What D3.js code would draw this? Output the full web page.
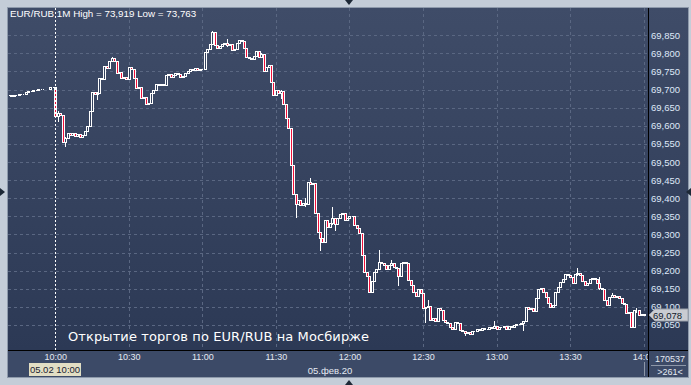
<!DOCTYPE html>
<html>
<head>
<meta charset="utf-8">
<script src="https://cdn.jsdelivr.net/npm/d3@7"></script>
<style>
  html, body { margin: 0; padding: 0; background: #c4cdd8; }
  svg { display: block; }
</style>
</head>
<body>
<svg width="691" height="385"></svg>
<script>
// ---- data (1-minute candles, index 0 = 10:00) ----
var firstIndex = -19;
var firstOpen = 69.686;
var closes = [
  // previous session tail (-19 .. -1), null = no trade
  69.684, 69.683, 69.685, 69.686, 69.688, 69.687, 69.689, 69.692, 69.695, 69.696,
  69.698, 69.699, 69.701, 69.703, 69.703, null, null, 69.706, 69.707,
  // 10:00 ..
  69.628, 69.634, 69.630, 69.556, 69.566, 69.580, 69.575, 69.581, 69.572, 69.577,
  69.570, 69.575, 69.586, 69.600, 69.640, 69.692, 69.687, 69.690, 69.731, 69.728,
  69.766, 69.760, 69.780, 69.786, 69.778, 69.745, 69.748, 69.731, 69.734, 69.730,
  // 10:30
  69.762, 69.756, 69.731, 69.704, 69.708, 69.676, 69.680, 69.659, 69.662, 69.690,
  69.698, 69.715, 69.712, 69.716, 69.713, 69.740, 69.743, 69.736, 69.741, 69.745,
  69.742, 69.736, 69.738, 69.745, 69.750, 69.758, 69.755, 69.760, 69.753, 69.756,
  // 11:00
  69.758, 69.805, 69.812, 69.825, 69.858, 69.823, 69.815, 69.820, 69.826, 69.828,
  69.822, 69.825, 69.809, 69.812, 69.830, 69.837, 69.834, 69.814, 69.791, 69.788,
  69.785, 69.792, 69.806, 69.790, 69.798, 69.750, 69.762, 69.768, 69.722, 69.684,
  // 11:30
  69.700, 69.690, 69.695, 69.660, 69.621, 69.595, 69.492, 69.412, 69.385, 69.395,
  69.380, 69.388, 69.383, 69.446, 69.440, 69.442, 69.358, 69.308, 69.290, 69.280,
  69.340, 69.320, 69.332, 69.345, 69.330, 69.345, 69.355, 69.360, 69.340, 69.345,
  // 12:00
  69.350, 69.352, 69.325, 69.318, 69.305, 69.243, 69.195, 69.185, 69.140, 69.170,
  69.195, 69.205, 69.225, 69.220, 69.215, 69.205, 69.215, 69.222, 69.210, 69.208,
  69.185, 69.220, 69.225, 69.222, 69.174, 69.160, 69.140, 69.130, 69.150, 69.137,
  // 12:30
  69.096, 69.100, 69.102, 69.064, 69.068, 69.062, 69.096, 69.092, 69.064, 69.057,
  69.055, 69.045, 69.040, 69.058, 69.055, 69.037, 69.033, 69.028, 69.030, 69.026,
  69.034, 69.033, 69.038, 69.036, 69.042, 69.038, 69.040, 69.044, 69.042, 69.048,
  // 13:00
  69.040, 69.045, 69.043, 69.046, 69.040, 69.047, 69.045, 69.050, 69.053, 69.052,
  69.056, 69.060, 69.100, 69.095, 69.098, 69.088, 69.123, 69.148, 69.151, 69.140,
  69.128, 69.110, 69.100, 69.105, 69.142, 69.155, 69.169, 69.178, 69.190, 69.188,
  // 13:30
  69.183, 69.165, 69.190, 69.194, 69.188, 69.170, 69.160, 69.165, 69.178, 69.180,
  69.178, 69.165, 69.152, 69.150, 69.119, 69.105, 69.128, 69.132, 69.128, 69.130,
  69.125, 69.110, 69.108, 69.082, 69.085, 69.045, 69.091, 69.090, 69.078, 69.080,
  // 14:00
  69.078
];
// visible wicks: [index, high, low]
var wicks = [
  [0, 69.707, 69.625], [1, 69.640, 69.612], [4, 69.568, 69.543], [17, 69.692, 69.675],
  [23, 69.790, 69.778], [64, 69.862, 69.825], [70, 69.840, 69.820], [84, 69.802, 69.790],
  [92, 69.700, 69.676], [98, 69.412, 69.349], [102, 69.400, 69.378], [104, 69.455, 69.438],
  [108, 69.308, 69.257], [113, 69.377, 69.330], [114, 69.345, 69.312], [132, 69.257, 69.205],
  [137, 69.230, 69.215], [140, 69.208, 69.160], [151, 69.100, 69.059], [152, 69.119, 69.100],
  [167, 69.030, 69.022], [179, 69.061, 69.042], [191, 69.060, 69.036], [213, 69.206, 69.188],
  [222, 69.183, 69.150], [227, 69.138, 69.126], [237, 69.096, 69.085]
];
var timeTicks = [0, 30, 60, 90, 120, 150, 180, 210, 240];
var timeLabels = ["10:00", "10:30", "11:00", "11:30", "12:00", "12:30", "13:00", "13:30", "14:00"];
var priceTicks = [69.05, 69.10, 69.15, 69.20, 69.25, 69.30, 69.35, 69.40, 69.45,
                  69.50, 69.55, 69.60, 69.65, 69.70, 69.75, 69.80, 69.85];
var lastPrice = 69.078;
var header = "EUR/RUB 1M High = 73,919 Low = 73,763";
var caption = "Открытие торгов по EUR/RUB на Мосбирже";
var cursorLabel = "05.02 10:00";
var dateLabel = "05.фев.20";
var volumeText = "170537";
var countText = ">261<";

// ---- build candles ----
var candles = [];
var prev = firstOpen;
closes.forEach(function (c, k) {
  if (c === null) return;
  var i = firstIndex + k;
  var o = prev;
  var h = Math.max(o, c), l = Math.min(o, c);
  wicks.forEach(function (w) {
    if (w[0] === i) { h = Math.max(h, w[1]); l = Math.min(l, w[2]); }
  });
  candles.push({ i: i, o: o, h: h, l: l, c: c });
  prev = c;
});

// ---- layout ----
var plot = { left: 8, top: 8, right: 648, bottom: 350 };
var svg = d3.select("svg");
var ru = d3.formatLocale({ decimal: ",", thousands: " ", grouping: [3], currency: ["", ""] });
var fmt = ru.format(".3f");
var font = "Liberation Sans, Arial, sans-serif";

var x = d3.scaleLinear().domain([-19.3, 241.8]).range([plot.left, plot.right]);
var y = d3.scaleLinear().domain([68.9807, 69.9254]).range([plot.bottom, plot.top]);

var defs = svg.append("defs");
var grad = defs.append("linearGradient").attr("id", "bg").attr("x1", 0).attr("y1", 0).attr("x2", 0).attr("y2", 1);
grad.append("stop").attr("offset", "0%").attr("stop-color", "#3f4c68");
grad.append("stop").attr("offset", "100%").attr("stop-color", "#2c3955");
defs.append("clipPath").attr("id", "plotClip").append("rect")
  .attr("x", plot.left).attr("y", plot.top)
  .attr("width", plot.right - plot.left).attr("height", plot.bottom - plot.top);

// frame
svg.append("rect").attr("width", 691).attr("height", 385).attr("fill", "#c4cdd8");
svg.append("rect").attr("x", 7.5).attr("y", 7.5).attr("width", 681).attr("height", 370)
  .attr("fill", "none").attr("stroke", "#8e9aab");
svg.append("rect").attr("x", plot.left).attr("y", plot.top)
  .attr("width", 688 - plot.left).attr("height", plot.bottom - plot.top)
  .attr("fill", "url(#bg)");
svg.append("rect").attr("x", plot.left).attr("y", plot.bottom)
  .attr("width", 688 - plot.left).attr("height", 377 - plot.bottom)
  .attr("fill", "#3c4a67");

// grid
var grid = svg.append("g").attr("clip-path", "url(#plotClip)");
grid.selectAll(".hg").data(priceTicks).enter().append("line")
  .attr("x1", plot.left).attr("x2", plot.right)
  .attr("y1", function (d) { return Math.round(y(d)) + 0.5; })
  .attr("y2", function (d) { return Math.round(y(d)) + 0.5; })
  .attr("stroke", "#5a6782").attr("stroke-dasharray", "3,3");
grid.selectAll(".vg").data(timeTicks.slice(1)).enter().append("line")
  .attr("y1", plot.top).attr("y2", plot.bottom)
  .attr("x1", function (d) { return Math.round(x(d)) + 0.5; })
  .attr("x2", function (d) { return Math.round(x(d)) + 0.5; })
  .attr("stroke", "#5a6782").attr("stroke-dasharray", "3,3");

// header
svg.append("text").attr("x", 10).attr("y", 17)
  .attr("font-family", font).attr("font-size", "9.8px")
  .attr("fill", "#ffffff").text(header);

// candles
var cg = svg.append("g").attr("clip-path", "url(#plotClip)");
var cx = function (d) { return Math.round(x(d.i)); };
cg.selectAll(".wick").data(candles).enter().append("line")
  .attr("x1", function (d) { return cx(d) + 0.5; })
  .attr("x2", function (d) { return cx(d) + 0.5; })
  .attr("y1", function (d) { return Math.round(y(d.h)); })
  .attr("y2", function (d) { return Math.round(y(d.l)) + 1; })
  .attr("stroke", "#ffffff");
cg.selectAll(".body").data(candles).enter().append("rect")
  .attr("x", function (d) { return cx(d) - 0.5; })
  .attr("width", 2)
  .attr("y", function (d) { return Math.round(y(Math.max(d.o, d.c))) + 0.5; })
  .attr("height", function (d) {
    return Math.max(0, Math.round(y(Math.min(d.o, d.c))) - Math.round(y(Math.max(d.o, d.c))));
  })
  .attr("fill", function (d) { return d.c < d.o ? "#f0103a" : "#34415d"; })
  .attr("stroke", "#ffffff");

// cursor line at 10:00
svg.append("line")
  .attr("x1", Math.round(x(0)) + 0.5).attr("x2", Math.round(x(0)) + 0.5)
  .attr("y1", plot.top).attr("y2", plot.bottom)
  .attr("stroke", "#ffffff").attr("stroke-dasharray", "2,2");

// caption
svg.append("text").attr("x", 68).attr("y", 341)
  .attr("font-family", "DejaVu Sans, sans-serif").attr("font-size", "13px")
  .attr("letter-spacing", "0.1px")
  .attr("fill", "#ffffff").text(caption);

// separators
svg.append("line").attr("x1", plot.right + 0.5).attr("x2", plot.right + 0.5)
  .attr("y1", plot.top).attr("y2", 377).attr("stroke", "#000000");
svg.append("line").attr("x1", plot.left).attr("x2", 688)
  .attr("y1", plot.bottom + 0.5).attr("y2", plot.bottom + 0.5).attr("stroke", "#000000");

// price axis
var yAxis = svg.append("g").attr("transform", "translate(" + (plot.right + 2) + ",0)")
  .call(d3.axisRight(y).tickValues(priceTicks).tickSize(0).tickPadding(1).tickFormat(fmt));
yAxis.select(".domain").remove();
yAxis.selectAll("text").attr("font-family", font)
  .attr("font-size", "9.5px").attr("fill", "#dfe8f8");

// last price marker (covers the 69,100 label as in the source)
var ly = Math.round(y(lastPrice));
svg.append("path")
  .attr("d", "M649," + ly + "L655," + (ly - 6) + "L688," + (ly - 6) + "L688," + (ly + 6) + "L655," + (ly + 6) + "Z")
  .attr("fill", "#c9ccd2").attr("stroke", "#9aa0aa");
svg.append("text").attr("x", 653).attr("y", ly + 4)
  .attr("font-family", font).attr("font-size", "9.5px")
  .attr("fill", "#101828").text(fmt(lastPrice));

// time axis (last label cut by the price column)
var xAxis = svg.append("g")
  .attr("transform", "translate(0," + (plot.bottom + 1) + ")")
  .call(d3.axisBottom(x).tickValues(timeTicks).tickSize(0).tickPadding(3)
    .tickFormat(function (d, k) { return timeLabels[k]; }));
xAxis.select(".domain").remove();
xAxis.selectAll("text").attr("font-family", font)
  .attr("font-size", "9px").attr("fill", "#e4e9f2");
// cover the overflow of "14:00" past the plot edge
svg.append("rect").attr("x", plot.right + 1).attr("y", plot.bottom + 1)
  .attr("width", 688 - plot.right - 1).attr("height", 377 - plot.bottom - 1)
  .attr("fill", "#3c4a67");
svg.append("line").attr("x1", plot.right + 0.5).attr("x2", plot.right + 0.5)
  .attr("y1", plot.bottom).attr("y2", 377).attr("stroke", "#000000");

// cursor label and date
var cl = Math.round(x(0));
svg.append("rect").attr("x", cl - 26).attr("y", 363).attr("width", 52).attr("height", 13)
  .attr("fill", "#e2dec4");
svg.append("text").attr("x", cl).attr("y", 373).attr("text-anchor", "middle")
  .attr("font-family", font).attr("font-size", "9.5px")
  .attr("fill", "#1a2233").text(cursorLabel);
svg.append("text").attr("x", 330).attr("y", 374).attr("text-anchor", "middle")
  .attr("font-family", font).attr("font-size", "9.5px")
  .attr("fill", "#e4e9f2").text(dateLabel);
svg.append("line").attr("x1", 644.5).attr("x2", 644.5).attr("y1", 362).attr("y2", 376)
  .attr("stroke", "#8d97a8");

// bottom-right cell
svg.append("text").attr("x", 670).attr("y", 362).attr("text-anchor", "middle")
  .attr("font-family", font).attr("font-size", "9px")
  .attr("fill", "#e4e9f2").text(volumeText);
svg.append("line").attr("x1", 651).attr("x2", 686).attr("y1", 365.5).attr("y2", 365.5)
  .attr("stroke", "#8d97a8");
svg.append("text").attr("x", 670).attr("y", 375).attr("text-anchor", "middle")
  .attr("font-family", font).attr("font-size", "9px")
  .attr("fill", "#e4e9f2").text(countText);

// scroll markers
var mk = "#1d2836";
svg.append("path").attr("d", "M345,0L353,0L349,5Z").attr("fill", mk);
svg.append("path").attr("d", "M345,385L353,385L349,380Z").attr("fill", mk);
svg.append("path").attr("d", "M0,188L0,196L5,192Z").attr("fill", mk);
svg.append("path").attr("d", "M691,188L691,196L686,192Z").attr("fill", mk);
</script>
</body>
</html>
